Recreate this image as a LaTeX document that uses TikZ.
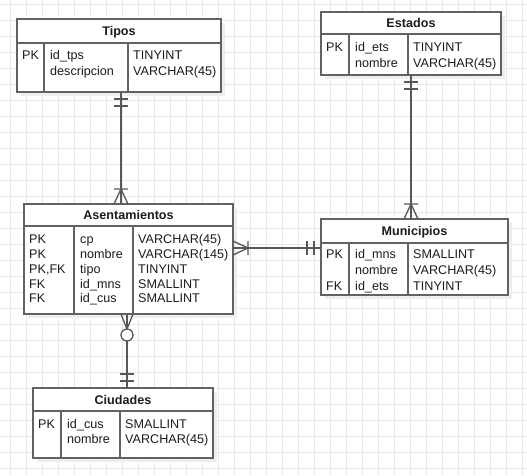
\documentclass[tikz,border=0pt]{standalone}
\usepackage{fontspec}
\setmainfont{Liberation Sans}
\usetikzlibrary{calc}

\definecolor{gridc}{RGB}{232,232,232}
\definecolor{edgec}{RGB}{98,98,98}
\definecolor{linkc}{RGB}{88,88,88}
\definecolor{shadowc}{RGB}{238,238,238}
\definecolor{inkc}{RGB}{28,28,28}

\tikzset{
  tablebox/.style={draw=edgec, line width=1.5pt, fill=white, rectangle,
    inner sep=0pt, outer sep=0pt, anchor=north west},
  boxline/.style={draw=edgec, line width=1.5pt},
  colline/.style={draw=edgec, line width=1.3pt},
  boxshadow/.style={fill=shadowc},
  celltext/.style={anchor=base west, inner sep=0pt, text=inkc,
    font=\fontsize{12.6}{14}\selectfont},
  titletext/.style={anchor=base, inner sep=0pt, text=inkc,
    font=\fontsize{12.6}{14}\selectfont\bfseries},
  gridline/.style={draw=gridc, line width=0.75pt},
  rel/.style={draw=linkc, line width=1.3pt},
  % crow's foot end marks; local +y points away from the table
  pics/onlyone/.style={code={
    \draw[rel] (-7,7) -- (7,7) (-7,14) -- (7,14);}},
  pics/onemany/.style={code={
    \draw[rel] (-7,0) -- (0,15) -- (7,0) (-7,15) -- (7,15);}},
  pics/zeromany/.style={code={
    \draw[rel] (-6,0) -- (0,15) -- (6,0);
    \draw[rel, fill=white] (0,21) circle[radius=6pt];}},
}

% table frame: name, left, top, right, bottom, header line, divider 1, divider 2, title
\newcommand{\erdtable}[9]{%
  \fill[boxshadow] (#2+4,#3+4) rectangle (#4+4,#5+4);
  \node[tablebox, minimum width={#4-#2}, minimum height={#5-#3}] (#1) at (#2,#3) {};
  \draw[boxline] (#2,#6) -- (#4,#6);
  \draw[colline] (#7,#6) -- (#7,#5) (#8,#6) -- (#8,#5);
  \node[titletext] (#1-title) at ({(#2+#4)/2},{(#3+#6)/2+4.5}) {#9};
}
% table row: name, index, centre y, left, divider 1, divider 2, key, column, type
\newcommand{\erdrow}[9]{%
  \node[celltext] (#1-#2a) at (#4+5,#3+4.5) {#7};
  \node[celltext] (#1-#2b) at (#5+6,#3+4.5) {#8};
  \node[celltext] (#1-#2c) at (#6+5,#3+4.5) {#9};
}

\begin{document}
\begin{tikzpicture}[x=1pt, y=-1pt]
  \useasboundingbox (0,0) rectangle (527,475);
  \fill[white] (0,0) rectangle (527,475);

  % background grid
  \foreach \gx in {10,26,...,522} \draw[gridline] (\gx,0) -- (\gx,475);
  \foreach \gy in {4,20,...,470} \draw[gridline] (0,\gy) -- (527,\gy);

  % tables
  \erdtable{tipos}{17}{19}{221}{92}{43}{44}{128}{Tipos}
  \erdrow{tipos}{1}{55}{17}{44}{128}{PK}{id\_tps}{TINYINT}
  \erdrow{tipos}{2}{71}{17}{44}{128}{}{descripcion}{VARCHAR(45)}

  \erdtable{estados}{321}{12}{501}{75}{34}{349}{408}{Estados}
  \erdrow{estados}{1}{47}{321}{349}{408}{PK}{id\_ets}{TINYINT}
  \erdrow{estados}{2}{63}{321}{349}{408}{}{nombre}{VARCHAR(45)}

  \erdtable{asent}{24}{204}{233}{314}{226}{74}{133}{Asentamientos}
  \erdrow{asent}{1}{239}{24}{74}{133}{PK}{cp}{VARCHAR(45)}
  \erdrow{asent}{2}{254}{24}{74}{133}{PK}{nombre}{VARCHAR(145)}
  \erdrow{asent}{3}{269}{24}{74}{133}{PK,FK}{tipo}{TINYINT}
  \erdrow{asent}{4}{284}{24}{74}{133}{FK}{id\_mns}{SMALLINT}
  \erdrow{asent}{5}{298}{24}{74}{133}{FK}{id\_cus}{SMALLINT}

  \erdtable{munic}{321}{219}{508}{295}{243}{349}{408}{Municipios}
  \erdrow{munic}{1}{254}{321}{349}{408}{PK}{id\_mns}{SMALLINT}
  \erdrow{munic}{2}{270}{321}{349}{408}{}{nombre}{VARCHAR(45)}
  \erdrow{munic}{3}{286}{321}{349}{408}{FK}{id\_ets}{TINYINT}

  \erdtable{ciud}{33}{388}{213}{458}{411}{61}{120}{Ciudades}
  \erdrow{ciud}{1}{424}{33}{61}{120}{PK}{id\_cus}{SMALLINT}
  \erdrow{ciud}{2}{439}{33}{61}{120}{}{nombre}{VARCHAR(45)}

  % relationships
  \draw[rel] ($(tipos.south west)+(104,0)$) -- ($(asent.north west)+(97,0)$);
  \pic at ($(tipos.south west)+(104,0)$) {onlyone};
  \pic[rotate=180] at ($(asent.north west)+(97,0)$) {onemany};

  \draw[rel] ($(estados.south west)+(90,0)$) -- ($(munic.north west)+(90,0)$);
  \pic at ($(estados.south west)+(90,0)$) {onlyone};
  \pic[rotate=180] at ($(munic.north west)+(90,0)$) {onemany};

  \draw[rel] ($(asent.north east)+(0,44)$) -- ($(munic.north west)+(0,29)$);
  \pic[rotate=90] at ($(asent.north east)+(0,44)$) {onemany};
  \pic[rotate=-90] at ($(munic.north west)+(0,29)$) {onlyone};

  \draw[rel] ($(asent.south west)+(103,0)$) -- ($(ciud.north west)+(94,0)$);
  \pic at ($(asent.south west)+(103,0)$) {zeromany};
  \pic[rotate=180] at ($(ciud.north west)+(94,0)$) {onlyone};
\end{tikzpicture}
\end{document}
